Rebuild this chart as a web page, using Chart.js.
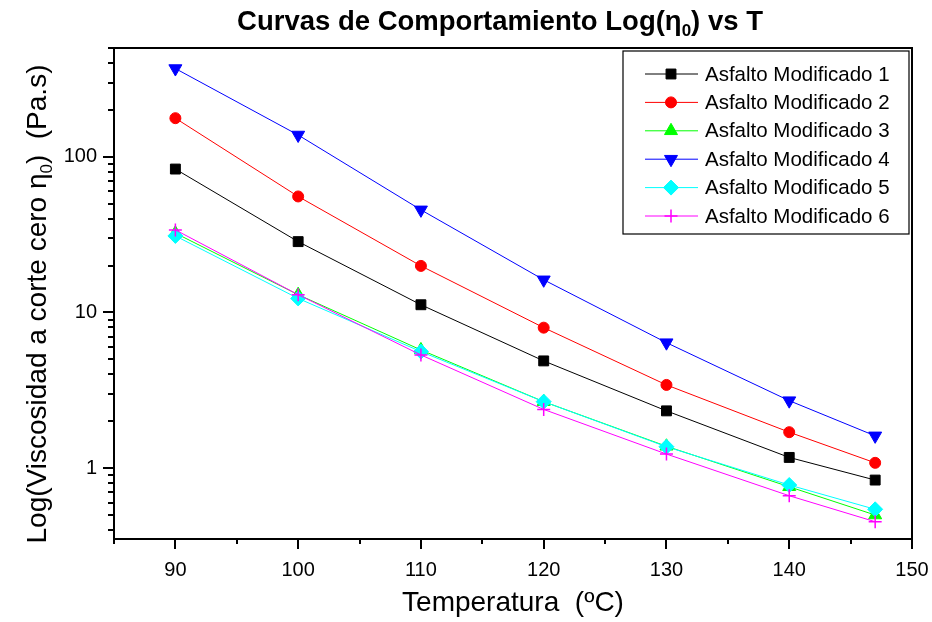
<!DOCTYPE html>
<html>
<head>
<meta charset="utf-8">
<title>Curvas de Comportamiento</title>
<script src="https://cdn.jsdelivr.net/npm/chart.js@4/dist/chart.umd.min.js"></script>
<style>
  html, body { margin: 0; padding: 0; background: #fff; }
  canvas { display: block; }
</style>
</head>
<body>
<canvas id="viscChart" width="932" height="622"></canvas>
<script>
// Temperatures (ºC) and zero-shear viscosity (Pa.s) for each modified asphalt
const temperatures = [90, 100, 110, 120, 130, 140, 147];
const asfalto1 = [83.4, 28.5, 11.2, 4.88, 2.33, 1.17, 0.837];
const asfalto2 = [177, 55.6, 19.9, 7.98, 3.42, 1.70, 1.08];
const asfalto3 = [32.3, 13.0, 5.74, 2.67, 1.38, 0.758, 0.499];
const asfalto4 = [369, 138, 45.6, 16.2, 6.39, 2.71, 1.61];
const asfalto5 = [31.0, 12.3, 5.6, 2.67, 1.37, 0.778, 0.543];
const asfalto6 = [33.9, 13.0, 5.33, 2.38, 1.23, 0.664, 0.452];

const seriesNames = ['Asfalto Modificado 1', 'Asfalto Modificado 2', 'Asfalto Modificado 3',
  'Asfalto Modificado 4', 'Asfalto Modificado 5', 'Asfalto Modificado 6'];
const xLabelTicks = [90, 100, 110, 120, 130, 140, 150];
const yLabelTicks = [1, 10, 100];

const FONT = 'Arial, "Liberation Sans", Helvetica, sans-serif';
Chart.defaults.font.family = FONT;
Chart.defaults.color = '#000';

// later series are painted over earlier ones
function series(idx, values, color, style, radius, extra) {
  return Object.assign({
    label: seriesNames[idx],
    order: seriesNames.length - idx,
    data: temperatures.map((t, i) => ({ x: t, y: values[i] })),
    borderColor: color,
    backgroundColor: color,
    pointBackgroundColor: color,
    pointBorderColor: color,
    borderWidth: 1,
    pointStyle: style,
    pointRadius: radius,
    pointBorderWidth: 1,
    tension: 0,
  }, extra || {});
}

// draws a string with subscript segments, centred on x
function drawRich(ctx, parts, x, y, size, bold) {
  const weight = bold ? 'bold ' : '';
  const mainFont = weight + size + 'px ' + FONT;
  const subFont = weight + Math.round(size * 0.62) + 'px ' + FONT;
  let total = 0;
  parts.forEach(p => { ctx.font = p.sub ? subFont : mainFont; total += ctx.measureText(p.t).width; });
  let cx = x - total / 2;
  ctx.textAlign = 'left';
  ctx.textBaseline = 'alphabetic';
  parts.forEach(p => {
    ctx.font = p.sub ? subFont : mainFont;
    ctx.fillText(p.t, cx, p.sub ? y + size * 0.22 : y);
    cx += ctx.measureText(p.t).width;
  });
}

const framePlugin = {
  id: 'originFrame',
  afterDraw(chart) {
    const ctx = chart.ctx;
    const a = chart.chartArea;
    const xs = chart.scales.x;
    const ys = chart.scales.y;
    ctx.save();
    ctx.strokeStyle = '#000';
    ctx.fillStyle = '#000';

    // axis frame
    ctx.lineWidth = 2;
    ctx.strokeRect(a.left, a.top, a.right - a.left, a.bottom - a.top);

    // x ticks every 5, labelled ones longer
    for (let v = xs.min; v <= xs.max + 0.001; v += 5) {
      const px = Math.round(xs.getPixelForValue(v));
      const len = v % 10 === 0 ? 10 : 5;
      ctx.beginPath();
      ctx.moveTo(px, a.bottom);
      ctx.lineTo(px, a.bottom + len);
      ctx.stroke();
    }
    // y ticks: decades long, 2..9 short
    for (let d = 0.1; d <= 1000; d *= 10) {
      for (let m = 1; m <= 9; m++) {
        const v = d * m;
        if (v < ys.min || v > ys.max) continue;
        const py = Math.round(ys.getPixelForValue(v));
        const len = m === 1 ? 11 : 6;
        ctx.beginPath();
        ctx.moveTo(a.left, py);
        ctx.lineTo(a.left - len, py);
        ctx.stroke();
      }
    }

    // chart title
    drawRich(ctx, [{ t: 'Curvas de Comportamiento Log(η' }, { t: '0', sub: true }, { t: ') vs T' }],
      500, 30, 27.5, true);

    // x axis title
    ctx.font = '28px ' + FONT;
    ctx.textAlign = 'center';
    ctx.textBaseline = 'alphabetic';
    ctx.fillText('Temperatura  (ºC)', (a.left + a.right) / 2, 611);

    // y axis title, rotated
    ctx.save();
    ctx.translate(46, 304);
    ctx.rotate(-Math.PI / 2);
    drawRich(ctx, [{ t: 'Log(Viscosidad a corte cero η' }, { t: '0', sub: true }, { t: ')  (Pa.s)' }],
      0, 0, 28, false);
    ctx.restore();

    // legend box with line + marker samples
    const bx = 623, by = 51, bw = 286, bh = 183;
    ctx.lineWidth = 1.2;
    ctx.fillStyle = '#fff';
    ctx.fillRect(bx, by, bw, bh);
    ctx.strokeRect(bx, by, bw, bh);
    chart.data.datasets.forEach((ds, i) => {
      const ry = 74 + i * 28.4;
      ctx.strokeStyle = ds.borderColor;
      ctx.lineWidth = 1;
      ctx.beginPath();
      ctx.moveTo(645, ry);
      ctx.lineTo(698, ry);
      ctx.stroke();
      ctx.fillStyle = ds.pointBackgroundColor;
      ctx.strokeStyle = ds.pointBorderColor;
      ctx.lineWidth = ds.pointBorderWidth;
      Chart.helpers.drawPoint(ctx, {
        pointStyle: ds.pointStyle,
        rotation: ds.pointRotation || 0,
        radius: ds.pointRadius,
        borderWidth: ds.pointBorderWidth,
      }, 671, ry);
      ctx.fillStyle = '#000';
      ctx.font = '20.5px ' + FONT;
      ctx.textAlign = 'left';
      ctx.textBaseline = 'middle';
      ctx.fillText(ds.label, 705, ry + 1);
    });
    ctx.restore();
  }
};

new Chart(document.getElementById('viscChart'), {
  type: 'line',
  data: {
    datasets: [
      series(0, asfalto1, '#000000', 'rect', 7),
      series(1, asfalto2, '#ff0000', 'circle', 5.5),
      series(2, asfalto3, '#00ff00', 'triangle', 7.5),
      series(3, asfalto4, '#0000ff', 'triangle', 7.5, { pointRotation: 180 }),
      series(4, asfalto5, '#00ffff', 'rectRot', 7.5),
      series(5, asfalto6, '#ff00ff', 'cross', 6.5, { pointBorderWidth: 1.5 }),
    ],
  },
  options: {
    responsive: false,
    animation: false,
    devicePixelRatio: 1,
    layout: { padding: { top: 48, right: 20, left: 0, bottom: 0 } },
    plugins: {
      legend: { display: false },
      tooltip: { enabled: false },
      title: { display: false },
    },
    scales: {
      x: {
        type: 'linear',
        min: 85,
        max: 150,
        grid: { display: false, drawTicks: false },
        border: { display: false },
        ticks: {
          stepSize: 10,
          autoSkip: false,
          maxRotation: 0,
          padding: 19,
          font: { size: 20 },
          callback: v => (xLabelTicks.includes(v) ? String(v) : ''),
        },
        afterFit: s => { s.height = 83; s.paddingLeft = 0; s.paddingRight = 0; },
      },
      y: {
        type: 'logarithmic',
        min: 0.35,
        max: 500,
        grid: { display: false, drawTicks: false },
        border: { display: false },
        ticks: {
          autoSkip: false,
          padding: 17,
          font: { size: 20 },
          callback: v => (yLabelTicks.includes(v) ? String(v) : ''),
        },
        afterFit: s => { s.width = 114; s.paddingTop = 0; s.paddingBottom = 0; },
      },
    },
  },
  plugins: [framePlugin],
});
</script>
</body>
</html>
